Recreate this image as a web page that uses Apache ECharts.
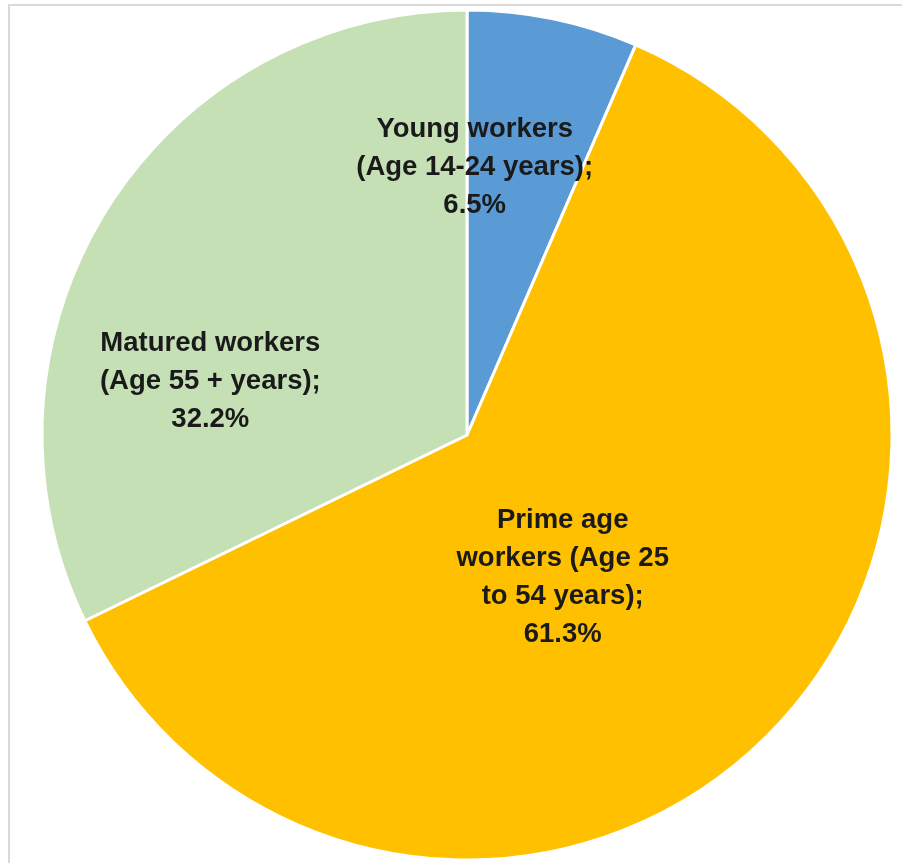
<!DOCTYPE html>
<html>
<head>
<meta charset="utf-8">
<script src="https://cdn.jsdelivr.net/npm/echarts@6/dist/echarts.min.js"></script>
<style>
  html, body { margin: 0; padding: 0; background: #fff; }
  #chart { width: 902px; height: 863px; }
</style>
</head>
<body>
<div id="chart"></div>
<script>
// worker age groups, share of workforce (%)
var categories = [
  "Young workers\n(Age 14-24 years);",
  "Prime age\nworkers (Age 25\nto 54 years);",
  "Matured workers\n(Age 55 + years);"
];
var values = [6.5, 61.3, 32.2];
var colors = ["#5B9BD5", "#FFC000", "#C5E0B4"];
// nudges so labels sit where the original put them
var labelOffsets = [[-36, -57], [-60, -7], [-74, 61]];

var myChart = echarts.init(document.getElementById("chart"));

var data = values.map(function (v, i) {
  return {
    name: categories[i],
    value: v,
    itemStyle: { color: colors[i] },
    label: { offset: labelOffsets[i] }
  };
});

var option = {
  animation: false,
  graphic: [
    {
      type: "rect",
      shape: { x: 9, y: 5, width: 1000, height: 1000 },
      style: { fill: "none", stroke: "#d9d9d9", lineWidth: 2 },
      z: 0
    }
  ],
  series: [
    {
      type: "pie",
      center: [467, 435],
      radius: [0, 425],
      startAngle: 90,
      clockwise: true,
      avoidLabelOverlap: false,
      itemStyle: { borderColor: "#fff", borderWidth: 3 },
      label: {
        show: true,
        position: "inside",
        formatter: function (p) {
          return p.name + "\n" + p.value.toFixed(1) + "%";
        },
        fontFamily: "Liberation Sans",
        fontWeight: "bold",
        fontSize: 27.5,
        lineHeight: 38,
        color: "#1a1a1a",
        align: "center"
      },
      labelLine: { show: false },
      data: data
    }
  ]
};

myChart.setOption(option);
</script>
</body>
</html>
